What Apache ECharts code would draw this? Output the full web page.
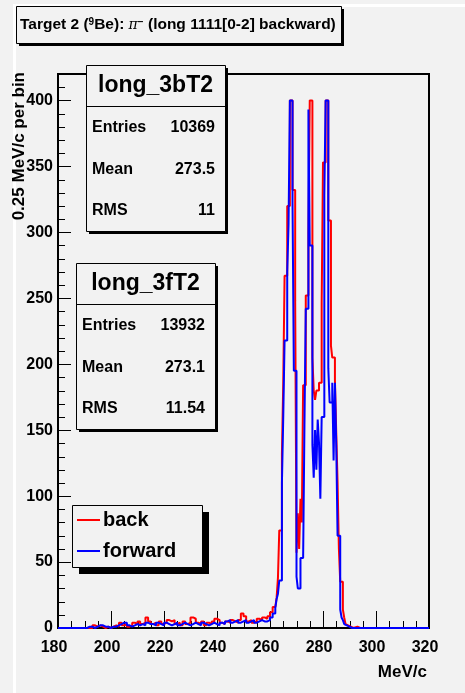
<!DOCTYPE html>
<html>
<head>
<meta charset="utf-8">
<title>Target 2 (9Be): pi- (long 1111[0-2] backward)</title>
<script src="https://cdn.jsdelivr.net/npm/echarts@6/dist/echarts.min.js"></script>
<style>
  html, body { margin: 0; padding: 0; background: #f2f2f2; }
  #wrap { position: relative; width: 465px; height: 693px; }
  #axes, #plot, #overlay { position: absolute; left: 0; top: 0; width: 465px; height: 693px; }
</style>
</head>
<body>
<div id="wrap"><div id="axes"></div><div id="plot"></div><div id="overlay"></div></div>
<script>
'use strict';

// bin layout: 1 MeV/c bins below 262, 0.5 MeV/c through the peaks, 1 MeV/c above 292
const lowStart = 180, lowWidth = 1;
const peakStart = 262, peakWidth = 0.5;
const highStart = 292, highWidth = 1;
const xEnd = 320;

// back (long_3bT2), counts per bin
const backLow = [
  0, 0, 0, 0, 0, 0, 0, 0, 0, 0, 0, 0, 0,
  2, 1, 2, 1, 0, 1, 0, 1,
  2, 1, 4, 2, 3, 1, 2, 4, 3, 5,
  3, 4, 8, 5, 3, 4, 2, 5, 3, 4,
  6, 5, 6, 3, 4, 2, 5, 3, 4, 8,
  7, 4, 3, 5, 2, 4, 3, 5, 7, 6,
  4, 3, 5, 4, 6, 5, 4, 6, 11, 9,
  5, 6, 4, 5, 7, 6, 8, 7, 9, 12, 16
];
const backPeak = [
  16, 23, 38, 74, 74, 132, 186, 267, 267, 320,
  320, 400, 400, 332, 332, 248, 57, 87, 60, 98,
  80, 184, 184, 252, 252, 300, 400, 400, 205, 180,
  173, 180, 180, 186, 186, 247, 353, 353, 400, 400,
  309, 309, 214, 205, 205, 188, 148, 110, 60, 35,
  35, 14, 8, 3, 2, 1, 1, 0, 0, 0
];
const backHigh = [
  1, 0, 0, 0, 0, 0, 0, 0, 0, 0, 0, 0, 0, 0,
  0, 0, 0, 0, 0, 0, 0, 0, 0, 0, 0, 0, 0, 0
];

// forward (long_3fT2), counts per bin
const forwardLow = [
  0, 0, 0, 0, 0, 0, 0, 0, 0, 0, 0,
  1, 1, 0, 1, 2, 2, 1, 1, 0, 1,
  1, 2, 3, 4, 4, 2, 1, 2, 3, 2,
  3, 2, 4, 3, 3, 2, 4, 3, 2, 4,
  3, 2, 3, 4, 2, 3, 4, 3, 2, 3,
  4, 3, 2, 4, 3, 2, 3, 4, 3, 2,
  4, 3, 5, 6, 4, 5, 6, 4, 5, 6,
  4, 5, 6, 4, 5, 6, 5, 5, 6, 8, 11
];
const forwardPeak = [
  15, 22, 26, 36, 36, 110, 160, 218, 218, 270,
  306, 400, 400, 323, 195, 195, 39, 30, 30, 53,
  53, 53, 154, 242, 242, 393, 290, 290, 139, 114,
  150, 120, 158, 140, 98, 160, 160, 328, 400, 400,
  197, 171, 171, 186, 127, 186, 139, 70, 70, 14,
  8, 6, 3, 2, 2, 1, 1, 0, 0, 0
];
const forwardHigh = [
  0, 0, 0, 0, 0, 0, 0, 0, 0, 0, 0, 0, 0, 0,
  0, 0, 0, 0, 0, 0, 0, 0, 0, 0, 0, 0, 0, 0
];

const seriesNames = ['back', 'forward'];
const seriesColors = ['#ff0000', '#0000ff'];
const yLabels = [0, 50, 100, 150, 200, 250, 300, 350, 400];

const statLabels = ['Entries', 'Mean', 'RMS'];
const backStats = ['10369', '273.5', '11'];
const forwardStats = ['13932', '273.1', '11.54'];

// axis ranges and tick spacing (ROOT style: primary + secondary divisions)
const xMin = 180, xMax = 320, xMajor = 20, xMinor = 5;
const yMin = 0, yMax = 420, yMajor = 50, yMinor = 10;

const FONT = 'Liberation Sans';

function toSteps(parts) {
  const pts = [];
  parts.forEach(([start, width, counts]) => {
    counts.forEach((c, i) => pts.push([start + i * width, c]));
  });
  pts.push([xEnd, pts[pts.length - 1][1]]);
  return pts;
}

// tick list: [kind, value]; kind 0/1 = x major/minor, 2/3 = y major/minor
function tickList() {
  const out = [];
  for (let v = xMin; v <= xMax; v += xMinor) out.push([v % xMajor === 0 ? 0 : 1, v]);
  for (let v = yMin; v <= yMax; v += yMinor) out.push([v % yMajor === 0 ? 2 : 3, v]);
  return out;
}
const tickLength = [17, 7, 13, 7];

function txt(x, y, text, size, align, extra) {
  return Object.assign({
    type: 'text', x, y, z: 20,
    style: {
      text, fontFamily: FONT, fontSize: size, fontWeight: 'bold',
      fill: '#000', align, verticalAlign: 'middle'
    }
  }, extra || {});
}

function box(x, y, w, h, shadow) {
  return [
    { type: 'rect', z: 10, shape: { x: x + shadow, y: y + shadow, width: w, height: h }, style: { fill: '#000' } },
    { type: 'rect', z: 11, shape: { x: x + 0.5, y: y + 0.5, width: w, height: h }, style: { fill: '#f2f2f2', stroke: '#000', lineWidth: 1 } }
  ];
}

function statBox(x, y, title, values) {
  const w = 139, h = 166;
  const els = box(x, y, w, h, 3);
  els.push({ type: 'line', z: 12, shape: { x1: x, y1: y + 41.5, x2: x + w, y2: y + 41.5 }, style: { stroke: '#000', lineWidth: 1 } });
  els.push(txt(x + w / 2, y + 21, title, 23, 'center'));
  statLabels.forEach((lab, i) => {
    els.push(txt(x + 6, y + 63 + i * 41.5, lab, 16, 'left'));
    els.push(txt(x + w - 10, y + 63 + i * 41.5, values[i], 16, 'right'));
  });
  return els;
}

function legendBox(x, y) {
  const els = box(x, y, 130, 62, 7);
  seriesNames.forEach((name, i) => {
    const ly = y + 15 + i * 31;
    els.push({ type: 'line', z: 12, shape: { x1: x + 5, y1: ly, x2: x + 28, y2: ly }, style: { stroke: seriesColors[i], lineWidth: 2 } });
    els.push(txt(x + 31, ly, name, 20, 'left'));
  });
  return els;
}

const titleEls = box(16, 6, 325, 37, 3).concat([{
  type: 'text', x: 20, y: 25, z: 20,
  style: {
    text: 'Target 2 ({sup|9}Be): {pi|π}{sup|−} (long 1111[0-2] backward)',
    fontFamily: FONT, fontSize: 15.5, fontWeight: 'bold', fill: '#000',
    align: 'left', verticalAlign: 'middle',
    rich: {
      sup: { fontFamily: FONT, fontSize: 10, fontWeight: 'bold', verticalAlign: 'top', fill: '#000' },
      pi: { fontFamily: 'DejaVu Serif', fontSize: 14, fontStyle: 'italic', fill: '#000' }
    }
  }
}]);

const gridBox = { left: 58, right: 36, top: 74, bottom: 65 };
const axisFont = { color: '#000', fontFamily: FONT, fontSize: 16, fontWeight: 'bold' };
const hidden = { axisLine: { show: false }, axisTick: { show: false }, axisLabel: { show: false }, splitLine: { show: false } };

// frame, axis lines and tick labels (bottom layer)
const axes = echarts.init(document.getElementById('axes'));
axes.setOption({
  animation: false,
  grid: Object.assign({ show: true, borderColor: '#000', borderWidth: 2, backgroundColor: 'transparent' }, gridBox),
  xAxis: {
    type: 'value', min: xMin, max: xMax, interval: xMajor,
    axisLine: { show: true, lineStyle: { color: '#000', width: 2 } },
    axisTick: { show: false },
    axisLabel: Object.assign({ margin: 12, padding: [0, 8, 0, 0] }, axisFont),
    splitLine: { show: false }
  },
  yAxis: {
    type: 'value', min: yMin, max: yMax, interval: yMinor,
    axisLine: { show: true, lineStyle: { color: '#000', width: 2 } },
    axisTick: { show: false },
    axisLabel: Object.assign({
      margin: 5,
      formatter: v => (yLabels.indexOf(v) >= 0 ? String(v) : '')
    }, axisFont),
    splitLine: { show: false }
  },
  series: []
});

// tick marks and histograms (middle layer, same grid and scales)
const plot = echarts.init(document.getElementById('plot'));
plot.setOption({
  animation: false,
  grid: gridBox,
  xAxis: Object.assign({ type: 'value', min: xMin, max: xMax, interval: xMajor }, hidden),
  yAxis: Object.assign({ type: 'value', min: yMin, max: yMax, interval: yMinor }, hidden),
  series: [{
    type: 'custom', silent: true, clip: false, z: 1,
    encode: { x: 1, y: 1 },
    data: tickList(),
    renderItem: (params, api) => {
      const kind = api.value(0), v = api.value(1), len = tickLength[kind];
      if (kind < 2) {
        const p = api.coord([v, yMin]);
        const x = Math.round(p[0]) + 0.5;
        return { type: 'line', shape: { x1: x, y1: p[1], x2: x, y2: p[1] - len }, style: { stroke: '#000', lineWidth: 1 } };
      }
      const p = api.coord([xMin, v]);
      const y = Math.round(p[1]) + 0.5;
      return { type: 'line', shape: { x1: p[0], y1: y, x2: p[0] + len, y2: y }, style: { stroke: '#000', lineWidth: 1 } };
    }
  }].concat(seriesNames.map((name, k) => ({
    name, type: 'line', step: 'end', symbol: 'none', z: 3,
    lineStyle: { color: seriesColors[k], width: 2 },
    data: k === 0
      ? toSteps([[lowStart, lowWidth, backLow], [peakStart, peakWidth, backPeak], [highStart, highWidth, backHigh]])
      : toSteps([[lowStart, lowWidth, forwardLow], [peakStart, peakWidth, forwardPeak], [highStart, highWidth, forwardHigh]])
  })))
});

// boxes, titles and legend (top layer)
const overlay = echarts.init(document.getElementById('overlay'));
overlay.setOption({
  animation: false,
  graphic: [
    { type: 'rect', z: 1, shape: { x: 13, y: 4, width: 452, height: 3 }, style: { fill: '#ffffff' } },
    { type: 'rect', z: 1, shape: { x: 13, y: 4, width: 3, height: 689 }, style: { fill: '#ffffff' } },
    txt(19, 72, '0.25 MeV/c per bin', 17, 'right', { rotation: Math.PI / 2 }),
    txt(427, 672, 'MeV/c', 17, 'right')
  ].concat(titleEls, statBox(86, 65, 'long_3bT2', backStats), statBox(76, 263, 'long_3fT2', forwardStats), legendBox(72, 505))
});
</script>
</body>
</html>
